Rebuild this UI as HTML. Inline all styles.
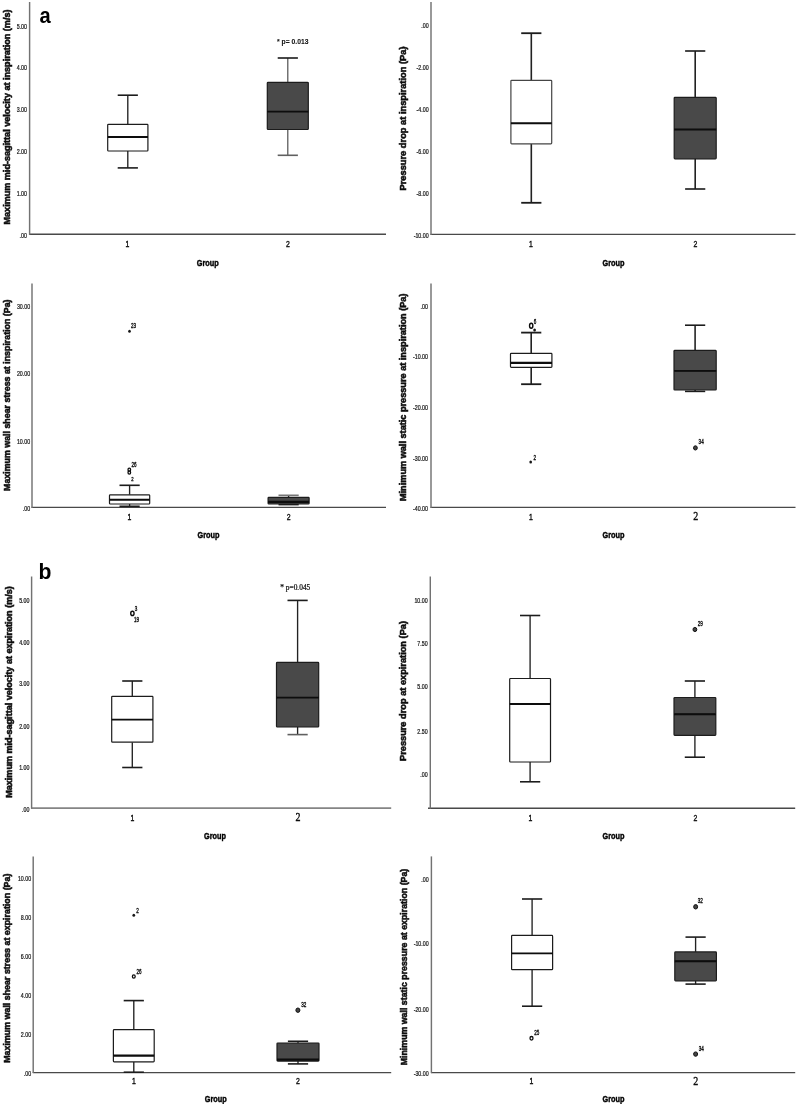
<!DOCTYPE html>
<html><head><meta charset="utf-8"><title>Figure</title>
<style>
html,body{margin:0;padding:0;background:#fff;}
body{width:797px;height:1104px;overflow:hidden;font-family:"Liberation Sans", sans-serif;}
svg{display:block;}
</style></head>
<body>
<svg width="797" height="1104" viewBox="0 0 797 1104">
<defs><filter id="bl" x="0" y="0" width="100%" height="100%"><feGaussianBlur stdDeviation="0.32"/></filter></defs>
<rect width="797" height="1104" fill="#fff"/>
<g filter="url(#bl)">
<line x1="29.2" y1="234.3" x2="386" y2="234.3" stroke="#484848" stroke-width="1.4"/>
<line x1="29.6" y1="2" x2="29.6" y2="234.8" stroke="#727272" stroke-width="1.45"/>
<text transform="translate(9.6,117) rotate(-90)" font-size="8.4" font-weight="bold" text-anchor="middle" font-family='"Liberation Sans", sans-serif' fill="#0c0c0c" stroke="#0c0c0c" stroke-width="0.5" textLength="215" lengthAdjust="spacingAndGlyphs">Maximum mid-sagittal velocity at inspiration (m/s)</text>
<text transform="translate(27,28.5) scale(0.76,1)" font-size="7.0" font-weight="normal" text-anchor="end" font-family='"Liberation Sans", sans-serif' fill="#111" stroke="#111" stroke-width="0.22">5.00</text>
<text transform="translate(27,70.1) scale(0.76,1)" font-size="7.0" font-weight="normal" text-anchor="end" font-family='"Liberation Sans", sans-serif' fill="#111" stroke="#111" stroke-width="0.22">4.00</text>
<text transform="translate(27,112.2) scale(0.76,1)" font-size="7.0" font-weight="normal" text-anchor="end" font-family='"Liberation Sans", sans-serif' fill="#111" stroke="#111" stroke-width="0.22">3.00</text>
<text transform="translate(27,154.3) scale(0.76,1)" font-size="7.0" font-weight="normal" text-anchor="end" font-family='"Liberation Sans", sans-serif' fill="#111" stroke="#111" stroke-width="0.22">2.00</text>
<text transform="translate(27,196.1) scale(0.76,1)" font-size="7.0" font-weight="normal" text-anchor="end" font-family='"Liberation Sans", sans-serif' fill="#111" stroke="#111" stroke-width="0.22">1.00</text>
<text transform="translate(27,238.3) scale(0.76,1)" font-size="7.0" font-weight="normal" text-anchor="end" font-family='"Liberation Sans", sans-serif' fill="#111" stroke="#111" stroke-width="0.22">.00</text>
<text transform="translate(39.6,23.0) scale(0.93,1)" font-size="21.6" font-weight="bold" text-anchor="start" font-family='"Liberation Sans", sans-serif' fill="#000" >a</text>
<line x1="127.8" y1="95.2" x2="127.8" y2="124.3" stroke="#222" stroke-width="1.35"/>
<line x1="127.8" y1="151.0" x2="127.8" y2="167.9" stroke="#222" stroke-width="1.35"/>
<line x1="117.7" y1="95.2" x2="137.9" y2="95.2" stroke="#1c1c1c" stroke-width="1.6"/>
<line x1="117.7" y1="167.9" x2="137.9" y2="167.9" stroke="#1c1c1c" stroke-width="1.6"/>
<rect x="107.69999999999999" y="124.3" width="40.2" height="26.700000000000003" rx="0.8" fill="#fff" stroke="#1c1c1c" stroke-width="1.2"/>
<line x1="107.69999999999999" y1="137" x2="147.9" y2="137" stroke="#0a0a0a" stroke-width="1.9"/>
<line x1="287.8" y1="58" x2="287.8" y2="82.3" stroke="#505050" stroke-width="1.2"/>
<line x1="287.8" y1="129.5" x2="287.8" y2="155.3" stroke="#505050" stroke-width="1.2"/>
<line x1="277.7" y1="58" x2="297.90000000000003" y2="58" stroke="#1c1c1c" stroke-width="1.6"/>
<line x1="277.7" y1="155.3" x2="297.90000000000003" y2="155.3" stroke="#606060" stroke-width="1.6"/>
<rect x="267.3" y="82.3" width="41.0" height="47.2" rx="0.8" fill="#4a4a4a" stroke="#1c1c1c" stroke-width="1.2"/>
<line x1="267.3" y1="111.6" x2="308.3" y2="111.6" stroke="#0a0a0a" stroke-width="1.7"/>
<text transform="translate(277,44.1) scale(0.88,1)" font-size="7.7" font-weight="bold" text-anchor="start" font-family='"Liberation Sans", sans-serif' fill="#151515" stroke="#151515" stroke-width="0.1">* p= 0.013</text>
<text transform="translate(127.4,246.5) scale(0.74,1)" font-size="9.3" font-weight="normal" text-anchor="middle" font-family='"Liberation Sans", sans-serif' fill="#111" stroke="#111" stroke-width="0.4">1</text>
<text transform="translate(288,246.5) scale(0.74,1)" font-size="9.3" font-weight="normal" text-anchor="middle" font-family='"Liberation Sans", sans-serif' fill="#111" stroke="#111" stroke-width="0.4">2</text>
<text transform="translate(207.8,266.3) scale(0.78,1)" font-size="9.4" font-weight="bold" text-anchor="middle" font-family='"Liberation Sans", sans-serif' fill="#000" stroke="#000" stroke-width="0.45">Group</text>
<line x1="430.59999999999997" y1="234.4" x2="795.5" y2="234.4" stroke="#484848" stroke-width="1.4"/>
<line x1="431.0" y1="2" x2="431.0" y2="234.9" stroke="#727272" stroke-width="1.45"/>
<text transform="translate(405.8,118.5) rotate(-90)" font-size="8.4" font-weight="bold" text-anchor="middle" font-family='"Liberation Sans", sans-serif' fill="#0c0c0c" stroke="#0c0c0c" stroke-width="0.5" textLength="144" lengthAdjust="spacingAndGlyphs">Pressure drop at inspiration (Pa)</text>
<text transform="translate(428.7,28.3) scale(0.76,1)" font-size="7.0" font-weight="normal" text-anchor="end" font-family='"Liberation Sans", sans-serif' fill="#111" stroke="#111" stroke-width="0.22">.00</text>
<text transform="translate(428.7,70.3) scale(0.76,1)" font-size="7.0" font-weight="normal" text-anchor="end" font-family='"Liberation Sans", sans-serif' fill="#111" stroke="#111" stroke-width="0.22">-2.00</text>
<text transform="translate(428.7,112.2) scale(0.76,1)" font-size="7.0" font-weight="normal" text-anchor="end" font-family='"Liberation Sans", sans-serif' fill="#111" stroke="#111" stroke-width="0.22">-4.00</text>
<text transform="translate(428.7,154.3) scale(0.76,1)" font-size="7.0" font-weight="normal" text-anchor="end" font-family='"Liberation Sans", sans-serif' fill="#111" stroke="#111" stroke-width="0.22">-6.00</text>
<text transform="translate(428.7,196.1) scale(0.76,1)" font-size="7.0" font-weight="normal" text-anchor="end" font-family='"Liberation Sans", sans-serif' fill="#111" stroke="#111" stroke-width="0.22">-8.00</text>
<text transform="translate(428.7,238.0) scale(0.76,1)" font-size="7.0" font-weight="normal" text-anchor="end" font-family='"Liberation Sans", sans-serif' fill="#111" stroke="#111" stroke-width="0.22">-10.00</text>
<line x1="531.3" y1="33.2" x2="531.3" y2="80.3" stroke="#222" stroke-width="1.6"/>
<line x1="531.3" y1="143.8" x2="531.3" y2="202.8" stroke="#222" stroke-width="1.6"/>
<line x1="521.1999999999999" y1="33.2" x2="541.4" y2="33.2" stroke="#1c1c1c" stroke-width="1.8"/>
<line x1="521.1999999999999" y1="202.8" x2="541.4" y2="202.8" stroke="#1c1c1c" stroke-width="1.8"/>
<rect x="510.9" y="80.3" width="40.8" height="63.500000000000014" rx="0.8" fill="#fff" stroke="#454545" stroke-width="1.2"/>
<line x1="510.9" y1="123.2" x2="551.6999999999999" y2="123.2" stroke="#0a0a0a" stroke-width="1.9"/>
<line x1="695.2" y1="51" x2="695.2" y2="97.4" stroke="#222" stroke-width="1.6"/>
<line x1="695.2" y1="158.8" x2="695.2" y2="189" stroke="#222" stroke-width="1.6"/>
<line x1="685.1" y1="51" x2="705.3000000000001" y2="51" stroke="#1c1c1c" stroke-width="1.6"/>
<line x1="685.1" y1="189" x2="705.3000000000001" y2="189" stroke="#1c1c1c" stroke-width="1.6"/>
<rect x="674.2" y="97.4" width="42" height="61.400000000000006" rx="0.8" fill="#4a4a4a" stroke="#1c1c1c" stroke-width="1.2"/>
<line x1="674.2" y1="129.5" x2="716.2" y2="129.5" stroke="#0a0a0a" stroke-width="1.9"/>
<text transform="translate(531,246.5) scale(0.74,1)" font-size="9.3" font-weight="normal" text-anchor="middle" font-family='"Liberation Sans", sans-serif' fill="#111" stroke="#111" stroke-width="0.4">1</text>
<text transform="translate(695.5,246.5) scale(0.74,1)" font-size="9.3" font-weight="normal" text-anchor="middle" font-family='"Liberation Sans", sans-serif' fill="#111" stroke="#111" stroke-width="0.4">2</text>
<text transform="translate(613.5,266.3) scale(0.78,1)" font-size="9.4" font-weight="bold" text-anchor="middle" font-family='"Liberation Sans", sans-serif' fill="#000" stroke="#000" stroke-width="0.45">Group</text>
<line x1="31.6" y1="507.4" x2="386" y2="507.4" stroke="#484848" stroke-width="1.4"/>
<line x1="32.0" y1="283.4" x2="32.0" y2="507.9" stroke="#727272" stroke-width="1.45"/>
<text transform="translate(9.6,395.2) rotate(-90)" font-size="8.4" font-weight="bold" text-anchor="middle" font-family='"Liberation Sans", sans-serif' fill="#0c0c0c" stroke="#0c0c0c" stroke-width="0.5" textLength="191.5" lengthAdjust="spacingAndGlyphs">Maximum wall shear stress at inspiration (Pa)</text>
<text transform="translate(30.2,309.1) scale(0.76,1)" font-size="7.0" font-weight="normal" text-anchor="end" font-family='"Liberation Sans", sans-serif' fill="#111" stroke="#111" stroke-width="0.22">30.00</text>
<text transform="translate(30.2,376.4) scale(0.76,1)" font-size="7.0" font-weight="normal" text-anchor="end" font-family='"Liberation Sans", sans-serif' fill="#111" stroke="#111" stroke-width="0.22">20.00</text>
<text transform="translate(30.2,443.5) scale(0.76,1)" font-size="7.0" font-weight="normal" text-anchor="end" font-family='"Liberation Sans", sans-serif' fill="#111" stroke="#111" stroke-width="0.22">10.00</text>
<text transform="translate(30.2,511.0) scale(0.76,1)" font-size="7.0" font-weight="normal" text-anchor="end" font-family='"Liberation Sans", sans-serif' fill="#111" stroke="#111" stroke-width="0.22">.00</text>
<line x1="129.6" y1="485.3" x2="129.6" y2="494.8" stroke="#222" stroke-width="1.35"/>
<line x1="129.6" y1="504" x2="129.6" y2="506.3" stroke="#222" stroke-width="1.35"/>
<line x1="119.5" y1="485.3" x2="139.7" y2="485.3" stroke="#1c1c1c" stroke-width="1.6"/>
<line x1="119.5" y1="506.3" x2="139.7" y2="506.3" stroke="#1c1c1c" stroke-width="1.6"/>
<rect x="109.5" y="494.8" width="40.2" height="9.199999999999989" rx="0.8" fill="#fff" stroke="#1c1c1c" stroke-width="1.2"/>
<line x1="109.5" y1="499.8" x2="149.7" y2="499.8" stroke="#0a0a0a" stroke-width="1.9"/>
<line x1="288.6" y1="495.3" x2="288.6" y2="497.3" stroke="#222" stroke-width="1.35"/>
<line x1="288.6" y1="504" x2="288.6" y2="504.6" stroke="#222" stroke-width="1.35"/>
<line x1="278.5" y1="495.3" x2="298.70000000000005" y2="495.3" stroke="#777" stroke-width="1.6"/>
<line x1="278.5" y1="504.6" x2="298.70000000000005" y2="504.6" stroke="#1c1c1c" stroke-width="1.6"/>
<rect x="268.1" y="497.3" width="41.0" height="6.699999999999989" rx="0.8" fill="#4a4a4a" stroke="#1c1c1c" stroke-width="1.2"/>
<line x1="268.1" y1="501.8" x2="309.1" y2="501.8" stroke="#0a0a0a" stroke-width="2.2"/>
<ellipse cx="129.5" cy="331.2" rx="1.35" ry="1.5" fill="#151515"/>
<text transform="translate(131.0,328.1) scale(0.7,1)" font-size="6.6" font-weight="normal" text-anchor="start" font-family='"Liberation Sans", sans-serif' fill="#111" stroke="#111" stroke-width="0.35">23</text>
<ellipse cx="129.3" cy="469.7" rx="1.3" ry="1.6" fill="#fff" stroke="#0d0d0d" stroke-width="1.3"/>
<ellipse cx="129.3" cy="472.6" rx="1.3" ry="1.6" fill="#fff" stroke="#0d0d0d" stroke-width="1.3"/>
<text transform="translate(131.5,466.5) scale(0.7,1)" font-size="6.6" font-weight="normal" text-anchor="start" font-family='"Liberation Sans", sans-serif' fill="#111" stroke="#111" stroke-width="0.35">26</text>
<text transform="translate(131.3,480.8) scale(0.7,1)" font-size="6.0" font-weight="normal" text-anchor="start" font-family='"Liberation Sans", sans-serif' fill="#111" stroke="#111" stroke-width="0.35">2</text>
<text transform="translate(129.5,519.5) scale(0.74,1)" font-size="9.3" font-weight="normal" text-anchor="middle" font-family='"Liberation Sans", sans-serif' fill="#111" stroke="#111" stroke-width="0.4">1</text>
<text transform="translate(288.6,519.5) scale(0.74,1)" font-size="9.3" font-weight="normal" text-anchor="middle" font-family='"Liberation Sans", sans-serif' fill="#111" stroke="#111" stroke-width="0.4">2</text>
<text transform="translate(208.5,538.3) scale(0.78,1)" font-size="9.4" font-weight="bold" text-anchor="middle" font-family='"Liberation Sans", sans-serif' fill="#000" stroke="#000" stroke-width="0.45">Group</text>
<line x1="430.59999999999997" y1="507.4" x2="795.5" y2="507.4" stroke="#484848" stroke-width="1.4"/>
<line x1="431.0" y1="283.4" x2="431.0" y2="507.9" stroke="#727272" stroke-width="1.45"/>
<text transform="translate(405.8,397.3) rotate(-90)" font-size="8.4" font-weight="bold" text-anchor="middle" font-family='"Liberation Sans", sans-serif' fill="#0c0c0c" stroke="#0c0c0c" stroke-width="0.5" textLength="207.5" lengthAdjust="spacingAndGlyphs">Minimum wall static pressure at inspiration (Pa)</text>
<text transform="translate(428,309.1) scale(0.76,1)" font-size="7.0" font-weight="normal" text-anchor="end" font-family='"Liberation Sans", sans-serif' fill="#111" stroke="#111" stroke-width="0.22">.00</text>
<text transform="translate(428,359.3) scale(0.76,1)" font-size="7.0" font-weight="normal" text-anchor="end" font-family='"Liberation Sans", sans-serif' fill="#111" stroke="#111" stroke-width="0.22">-10.00</text>
<text transform="translate(428,409.5) scale(0.76,1)" font-size="7.0" font-weight="normal" text-anchor="end" font-family='"Liberation Sans", sans-serif' fill="#111" stroke="#111" stroke-width="0.22">-20.00</text>
<text transform="translate(428,460.5) scale(0.76,1)" font-size="7.0" font-weight="normal" text-anchor="end" font-family='"Liberation Sans", sans-serif' fill="#111" stroke="#111" stroke-width="0.22">-30.00</text>
<text transform="translate(428,510.9) scale(0.76,1)" font-size="7.0" font-weight="normal" text-anchor="end" font-family='"Liberation Sans", sans-serif' fill="#111" stroke="#111" stroke-width="0.22">-40.00</text>
<line x1="531.2" y1="332.6" x2="531.2" y2="353.3" stroke="#222" stroke-width="1.6"/>
<line x1="531.2" y1="367.3" x2="531.2" y2="384.2" stroke="#222" stroke-width="1.6"/>
<line x1="521.1" y1="332.6" x2="541.3000000000001" y2="332.6" stroke="#1c1c1c" stroke-width="1.8"/>
<line x1="521.1" y1="384.2" x2="541.3000000000001" y2="384.2" stroke="#1c1c1c" stroke-width="1.8"/>
<rect x="510.50000000000006" y="353.3" width="41.4" height="14.0" rx="0.8" fill="#fff" stroke="#1c1c1c" stroke-width="1.2"/>
<line x1="510.50000000000006" y1="362.8" x2="551.9000000000001" y2="362.8" stroke="#0a0a0a" stroke-width="2.3"/>
<line x1="695.1" y1="325.2" x2="695.1" y2="350.4" stroke="#222" stroke-width="1.6"/>
<line x1="695.1" y1="390" x2="695.1" y2="391.4" stroke="#222" stroke-width="1.6"/>
<line x1="685.0" y1="325.2" x2="705.2" y2="325.2" stroke="#1c1c1c" stroke-width="1.6"/>
<line x1="685.0" y1="391.4" x2="705.2" y2="391.4" stroke="#1c1c1c" stroke-width="1.6"/>
<rect x="674.0" y="350.4" width="42.2" height="39.60000000000002" rx="0.8" fill="#4a4a4a" stroke="#1c1c1c" stroke-width="1.2"/>
<line x1="674.0" y1="370.9" x2="716.2" y2="370.9" stroke="#0a0a0a" stroke-width="1.9"/>
<ellipse cx="531.2" cy="325.8" rx="1.65" ry="2.5" fill="#fff" stroke="#0d0d0d" stroke-width="1.4"/>
<ellipse cx="534.6" cy="330" rx="1.35" ry="1.5" fill="#151515"/>
<text transform="translate(533.8,324.2) scale(0.7,1)" font-size="6.6" font-weight="normal" text-anchor="start" font-family='"Liberation Sans", sans-serif' fill="#111" stroke="#111" stroke-width="0.35">6</text>
<ellipse cx="530.7" cy="462" rx="1.35" ry="1.5" fill="#151515"/>
<text transform="translate(533.6,459.5) scale(0.7,1)" font-size="6.6" font-weight="normal" text-anchor="start" font-family='"Liberation Sans", sans-serif' fill="#111" stroke="#111" stroke-width="0.35">2</text>
<ellipse cx="695.4" cy="447.9" rx="1.9" ry="2.1" fill="#444" stroke="#111" stroke-width="1.0"/>
<text transform="translate(698.6,443.6) scale(0.7,1)" font-size="6.6" font-weight="normal" text-anchor="start" font-family='"Liberation Sans", sans-serif' fill="#111" stroke="#111" stroke-width="0.35">34</text>
<text transform="translate(531,519.5) scale(0.74,1)" font-size="9.3" font-weight="normal" text-anchor="middle" font-family='"Liberation Sans", sans-serif' fill="#111" stroke="#111" stroke-width="0.4">1</text>
<text transform="translate(695.7,520.4) scale(0.85,1)" font-size="11.8" font-weight="normal" text-anchor="middle" font-family='"Liberation Serif", serif' fill="#111" stroke="#111" stroke-width="0.4">2</text>
<text transform="translate(613.5,537.8) scale(0.78,1)" font-size="9.4" font-weight="bold" text-anchor="middle" font-family='"Liberation Sans", sans-serif' fill="#000" stroke="#000" stroke-width="0.45">Group</text>
<line x1="31.2" y1="808.2" x2="391.2" y2="808.2" stroke="#858585" stroke-width="1.7"/>
<line x1="31.6" y1="576.5" x2="31.6" y2="808.7" stroke="#727272" stroke-width="1.45"/>
<text transform="translate(12.0,692) rotate(-90)" font-size="8.4" font-weight="bold" text-anchor="middle" font-family='"Liberation Sans", sans-serif' fill="#0c0c0c" stroke="#0c0c0c" stroke-width="0.5" textLength="211.5" lengthAdjust="spacingAndGlyphs">Maximum mid-sagittal velocity at expiration (m/s)</text>
<text transform="translate(29.5,603.2) scale(0.76,1)" font-size="7.0" font-weight="normal" text-anchor="end" font-family='"Liberation Sans", sans-serif' fill="#111" stroke="#111" stroke-width="0.22">5.00</text>
<text transform="translate(29.5,644.6) scale(0.76,1)" font-size="7.0" font-weight="normal" text-anchor="end" font-family='"Liberation Sans", sans-serif' fill="#111" stroke="#111" stroke-width="0.22">4.00</text>
<text transform="translate(29.5,686.3) scale(0.76,1)" font-size="7.0" font-weight="normal" text-anchor="end" font-family='"Liberation Sans", sans-serif' fill="#111" stroke="#111" stroke-width="0.22">3.00</text>
<text transform="translate(29.5,728.5) scale(0.76,1)" font-size="7.0" font-weight="normal" text-anchor="end" font-family='"Liberation Sans", sans-serif' fill="#111" stroke="#111" stroke-width="0.22">2.00</text>
<text transform="translate(29.5,769.9) scale(0.76,1)" font-size="7.0" font-weight="normal" text-anchor="end" font-family='"Liberation Sans", sans-serif' fill="#111" stroke="#111" stroke-width="0.22">1.00</text>
<text transform="translate(29.5,811.9) scale(0.76,1)" font-size="7.0" font-weight="normal" text-anchor="end" font-family='"Liberation Sans", sans-serif' fill="#111" stroke="#111" stroke-width="0.22">.00</text>
<text transform="translate(38.6,578.5) scale(0.98,1)" font-size="21.6" font-weight="bold" text-anchor="start" font-family='"Liberation Sans", sans-serif' fill="#000" >b</text>
<line x1="132.3" y1="681" x2="132.3" y2="696.3" stroke="#222" stroke-width="1.35"/>
<line x1="132.3" y1="742.2" x2="132.3" y2="767.5" stroke="#222" stroke-width="1.35"/>
<line x1="122.20000000000002" y1="681" x2="142.4" y2="681" stroke="#1c1c1c" stroke-width="1.6"/>
<line x1="122.20000000000002" y1="767.5" x2="142.4" y2="767.5" stroke="#1c1c1c" stroke-width="1.6"/>
<rect x="111.70000000000002" y="696.3" width="41.2" height="45.90000000000009" rx="0.8" fill="#fff" stroke="#1c1c1c" stroke-width="1.2"/>
<line x1="111.70000000000002" y1="719.6" x2="152.9" y2="719.6" stroke="#0a0a0a" stroke-width="1.9"/>
<line x1="297.6" y1="600.4" x2="297.6" y2="662.4" stroke="#222" stroke-width="1.35"/>
<line x1="297.6" y1="727" x2="297.6" y2="734.6" stroke="#222" stroke-width="1.35"/>
<line x1="287.5" y1="600.4" x2="307.70000000000005" y2="600.4" stroke="#1c1c1c" stroke-width="1.6"/>
<line x1="287.5" y1="734.6" x2="307.70000000000005" y2="734.6" stroke="#606060" stroke-width="1.6"/>
<rect x="276.5" y="662.4" width="42.2" height="64.60000000000002" rx="0.8" fill="#4a4a4a" stroke="#1c1c1c" stroke-width="1.2"/>
<line x1="276.5" y1="697.6" x2="318.70000000000005" y2="697.6" stroke="#0a0a0a" stroke-width="1.9"/>
<ellipse cx="132.4" cy="613.4" rx="1.65" ry="2.1" fill="#fff" stroke="#0d0d0d" stroke-width="1.4"/>
<text transform="translate(134.8,611.0) scale(0.7,1)" font-size="6.6" font-weight="normal" text-anchor="start" font-family='"Liberation Sans", sans-serif' fill="#111" stroke="#111" stroke-width="0.35">3</text>
<text transform="translate(134.0,621.6) scale(0.7,1)" font-size="6.6" font-weight="normal" text-anchor="start" font-family='"Liberation Sans", sans-serif' fill="#111" stroke="#111" stroke-width="0.35">19</text>
<text transform="translate(280.3,589.6) scale(0.9,1)" font-size="8.2" font-weight="normal" text-anchor="start" font-family='"Liberation Serif", serif' fill="#111" stroke="#111" stroke-width="0.25">* p=0.045</text>
<text transform="translate(132.3,820.6) scale(0.74,1)" font-size="9.3" font-weight="normal" text-anchor="middle" font-family='"Liberation Sans", sans-serif' fill="#111" stroke="#111" stroke-width="0.4">1</text>
<text transform="translate(297.9,820.8) scale(0.85,1)" font-size="11.8" font-weight="normal" text-anchor="middle" font-family='"Liberation Serif", serif' fill="#111" stroke="#111" stroke-width="0.4">2</text>
<text transform="translate(215,839.0) scale(0.78,1)" font-size="9.4" font-weight="bold" text-anchor="middle" font-family='"Liberation Sans", sans-serif' fill="#000" stroke="#000" stroke-width="0.45">Group</text>
<line x1="428" y1="808.2" x2="795.2" y2="808.2" stroke="#484848" stroke-width="1.4"/>
<line x1="430.3" y1="576.5" x2="430.3" y2="808.7" stroke="#727272" stroke-width="1.45"/>
<text transform="translate(405.8,691) rotate(-90)" font-size="8.4" font-weight="bold" text-anchor="middle" font-family='"Liberation Sans", sans-serif' fill="#0c0c0c" stroke="#0c0c0c" stroke-width="0.5" textLength="140" lengthAdjust="spacingAndGlyphs">Pressure drop at expiration (Pa)</text>
<text transform="translate(427.7,603.0) scale(0.76,1)" font-size="7.0" font-weight="normal" text-anchor="end" font-family='"Liberation Sans", sans-serif' fill="#111" stroke="#111" stroke-width="0.22">10.00</text>
<text transform="translate(427.7,646.0) scale(0.76,1)" font-size="7.0" font-weight="normal" text-anchor="end" font-family='"Liberation Sans", sans-serif' fill="#111" stroke="#111" stroke-width="0.22">7.50</text>
<text transform="translate(427.7,689.2) scale(0.76,1)" font-size="7.0" font-weight="normal" text-anchor="end" font-family='"Liberation Sans", sans-serif' fill="#111" stroke="#111" stroke-width="0.22">5.00</text>
<text transform="translate(427.7,733.7) scale(0.76,1)" font-size="7.0" font-weight="normal" text-anchor="end" font-family='"Liberation Sans", sans-serif' fill="#111" stroke="#111" stroke-width="0.22">2.50</text>
<text transform="translate(427.7,777.1) scale(0.76,1)" font-size="7.0" font-weight="normal" text-anchor="end" font-family='"Liberation Sans", sans-serif' fill="#111" stroke="#111" stroke-width="0.22">.00</text>
<line x1="530.1" y1="615.5" x2="530.1" y2="678.5" stroke="#222" stroke-width="1.35"/>
<line x1="530.1" y1="762" x2="530.1" y2="781.8" stroke="#222" stroke-width="1.35"/>
<line x1="520.0" y1="615.5" x2="540.2" y2="615.5" stroke="#1c1c1c" stroke-width="1.6"/>
<line x1="520.0" y1="781.8" x2="540.2" y2="781.8" stroke="#1c1c1c" stroke-width="1.6"/>
<rect x="509.70000000000005" y="678.5" width="40.8" height="83.5" rx="0.8" fill="#fff" stroke="#1c1c1c" stroke-width="1.2"/>
<line x1="509.70000000000005" y1="704" x2="550.5" y2="704" stroke="#0a0a0a" stroke-width="1.9"/>
<line x1="694.9" y1="681" x2="694.9" y2="697.5" stroke="#222" stroke-width="1.35"/>
<line x1="694.9" y1="735.4" x2="694.9" y2="757.2" stroke="#222" stroke-width="1.35"/>
<line x1="684.8" y1="681" x2="705.0" y2="681" stroke="#1c1c1c" stroke-width="1.6"/>
<line x1="684.8" y1="757.2" x2="705.0" y2="757.2" stroke="#1c1c1c" stroke-width="1.6"/>
<rect x="674.0" y="697.5" width="41.8" height="37.89999999999998" rx="0.8" fill="#4a4a4a" stroke="#1c1c1c" stroke-width="1.2"/>
<line x1="674.0" y1="714.3" x2="715.8" y2="714.3" stroke="#0a0a0a" stroke-width="1.9"/>
<ellipse cx="694.9" cy="629.5" rx="1.9" ry="2.1" fill="#444" stroke="#111" stroke-width="1.0"/>
<text transform="translate(697.7,625.7) scale(0.7,1)" font-size="6.6" font-weight="normal" text-anchor="start" font-family='"Liberation Sans", sans-serif' fill="#111" stroke="#111" stroke-width="0.35">29</text>
<text transform="translate(530.5,820.6) scale(0.74,1)" font-size="9.3" font-weight="normal" text-anchor="middle" font-family='"Liberation Sans", sans-serif' fill="#111" stroke="#111" stroke-width="0.4">1</text>
<text transform="translate(695.5,820.6) scale(0.74,1)" font-size="9.3" font-weight="normal" text-anchor="middle" font-family='"Liberation Sans", sans-serif' fill="#111" stroke="#111" stroke-width="0.4">2</text>
<text transform="translate(613.5,839.1) scale(0.78,1)" font-size="9.4" font-weight="bold" text-anchor="middle" font-family='"Liberation Sans", sans-serif' fill="#000" stroke="#000" stroke-width="0.45">Group</text>
<line x1="32.8" y1="1072.6" x2="391.2" y2="1072.6" stroke="#484848" stroke-width="1.4"/>
<line x1="33.199999999999996" y1="856.4" x2="33.199999999999996" y2="1073.1" stroke="#727272" stroke-width="1.45"/>
<text transform="translate(10.1,968.2) rotate(-90)" font-size="8.4" font-weight="bold" text-anchor="middle" font-family='"Liberation Sans", sans-serif' fill="#0c0c0c" stroke="#0c0c0c" stroke-width="0.5" textLength="189.2" lengthAdjust="spacingAndGlyphs">Maximum wall shear stress at expiration (Pa)</text>
<text transform="translate(31.2,881.2) scale(0.76,1)" font-size="7.0" font-weight="normal" text-anchor="end" font-family='"Liberation Sans", sans-serif' fill="#111" stroke="#111" stroke-width="0.22">10.00</text>
<text transform="translate(31.2,919.8) scale(0.76,1)" font-size="7.0" font-weight="normal" text-anchor="end" font-family='"Liberation Sans", sans-serif' fill="#111" stroke="#111" stroke-width="0.22">8.00</text>
<text transform="translate(31.2,958.9) scale(0.76,1)" font-size="7.0" font-weight="normal" text-anchor="end" font-family='"Liberation Sans", sans-serif' fill="#111" stroke="#111" stroke-width="0.22">6.00</text>
<text transform="translate(31.2,998.4) scale(0.76,1)" font-size="7.0" font-weight="normal" text-anchor="end" font-family='"Liberation Sans", sans-serif' fill="#111" stroke="#111" stroke-width="0.22">4.00</text>
<text transform="translate(31.2,1037.0) scale(0.76,1)" font-size="7.0" font-weight="normal" text-anchor="end" font-family='"Liberation Sans", sans-serif' fill="#111" stroke="#111" stroke-width="0.22">2.00</text>
<text transform="translate(31.2,1076.2) scale(0.76,1)" font-size="7.0" font-weight="normal" text-anchor="end" font-family='"Liberation Sans", sans-serif' fill="#111" stroke="#111" stroke-width="0.22">.00</text>
<line x1="133.8" y1="1000.6" x2="133.8" y2="1029.7" stroke="#222" stroke-width="1.35"/>
<line x1="133.8" y1="1061.9" x2="133.8" y2="1072.2" stroke="#222" stroke-width="1.35"/>
<line x1="123.70000000000002" y1="1000.6" x2="143.9" y2="1000.6" stroke="#1c1c1c" stroke-width="1.6"/>
<line x1="123.70000000000002" y1="1072.2" x2="143.9" y2="1072.2" stroke="#1c1c1c" stroke-width="1.6"/>
<rect x="113.4" y="1029.7" width="40.8" height="32.200000000000045" rx="0.8" fill="#fff" stroke="#1c1c1c" stroke-width="1.2"/>
<line x1="113.4" y1="1055.6" x2="154.20000000000002" y2="1055.6" stroke="#0a0a0a" stroke-width="2.1"/>
<line x1="298" y1="1041.3" x2="298" y2="1043" stroke="#222" stroke-width="1.35"/>
<line x1="298" y1="1061.1" x2="298" y2="1063.9" stroke="#222" stroke-width="1.35"/>
<line x1="287.9" y1="1041.3" x2="308.1" y2="1041.3" stroke="#1c1c1c" stroke-width="1.6"/>
<line x1="287.9" y1="1063.9" x2="308.1" y2="1063.9" stroke="#1c1c1c" stroke-width="1.6"/>
<rect x="277" y="1043" width="42" height="18.09999999999991" rx="0.8" fill="#4a4a4a" stroke="#1c1c1c" stroke-width="1.2"/>
<line x1="277" y1="1059.6" x2="319" y2="1059.6" stroke="#0a0a0a" stroke-width="2.2"/>
<ellipse cx="133.8" cy="915.3" rx="1.35" ry="1.5" fill="#151515"/>
<text transform="translate(136.2,913) scale(0.7,1)" font-size="6.6" font-weight="normal" text-anchor="start" font-family='"Liberation Sans", sans-serif' fill="#111" stroke="#111" stroke-width="0.35">2</text>
<ellipse cx="133.8" cy="976.5" rx="1.4" ry="1.7" fill="#fff" stroke="#0d0d0d" stroke-width="1.3"/>
<text transform="translate(136.5,973.5) scale(0.7,1)" font-size="6.6" font-weight="normal" text-anchor="start" font-family='"Liberation Sans", sans-serif' fill="#111" stroke="#111" stroke-width="0.35">26</text>
<ellipse cx="297.9" cy="1010.2" rx="2.0" ry="2.2" fill="#444" stroke="#111" stroke-width="1.0"/>
<text transform="translate(301.2,1006.6) scale(0.7,1)" font-size="6.6" font-weight="normal" text-anchor="start" font-family='"Liberation Sans", sans-serif' fill="#111" stroke="#111" stroke-width="0.35">32</text>
<text transform="translate(133.8,1084.2) scale(0.74,1)" font-size="9.3" font-weight="normal" text-anchor="middle" font-family='"Liberation Sans", sans-serif' fill="#111" stroke="#111" stroke-width="0.4">1</text>
<text transform="translate(298,1084.2) scale(0.74,1)" font-size="9.3" font-weight="normal" text-anchor="middle" font-family='"Liberation Sans", sans-serif' fill="#111" stroke="#111" stroke-width="0.4">2</text>
<text transform="translate(215.8,1101.6) scale(0.78,1)" font-size="9.4" font-weight="bold" text-anchor="middle" font-family='"Liberation Sans", sans-serif' fill="#000" stroke="#000" stroke-width="0.45">Group</text>
<line x1="431.0" y1="1072.6" x2="795.2" y2="1072.6" stroke="#484848" stroke-width="1.4"/>
<line x1="431.40000000000003" y1="856.4" x2="431.40000000000003" y2="1073.1" stroke="#727272" stroke-width="1.45"/>
<text transform="translate(406.5,967) rotate(-90)" font-size="8.4" font-weight="bold" text-anchor="middle" font-family='"Liberation Sans", sans-serif' fill="#0c0c0c" stroke="#0c0c0c" stroke-width="0.5" textLength="196.6" lengthAdjust="spacingAndGlyphs">Minimum wall static pressure at expiration (Pa)</text>
<text transform="translate(428.7,881.5) scale(0.76,1)" font-size="7.0" font-weight="normal" text-anchor="end" font-family='"Liberation Sans", sans-serif' fill="#111" stroke="#111" stroke-width="0.22">.00</text>
<text transform="translate(428.7,946.1) scale(0.76,1)" font-size="7.0" font-weight="normal" text-anchor="end" font-family='"Liberation Sans", sans-serif' fill="#111" stroke="#111" stroke-width="0.22">-10.00</text>
<text transform="translate(428.7,1011.5) scale(0.76,1)" font-size="7.0" font-weight="normal" text-anchor="end" font-family='"Liberation Sans", sans-serif' fill="#111" stroke="#111" stroke-width="0.22">-20.00</text>
<text transform="translate(428.7,1076.4) scale(0.76,1)" font-size="7.0" font-weight="normal" text-anchor="end" font-family='"Liberation Sans", sans-serif' fill="#111" stroke="#111" stroke-width="0.22">-30.00</text>
<line x1="532.1" y1="899" x2="532.1" y2="935.4" stroke="#222" stroke-width="1.35"/>
<line x1="532.1" y1="969.7" x2="532.1" y2="1006.2" stroke="#222" stroke-width="1.35"/>
<line x1="522.0" y1="899" x2="542.2" y2="899" stroke="#1c1c1c" stroke-width="1.6"/>
<line x1="522.0" y1="1006.2" x2="542.2" y2="1006.2" stroke="#1c1c1c" stroke-width="1.6"/>
<rect x="511.6" y="935.4" width="41.0" height="34.30000000000007" rx="0.8" fill="#fff" stroke="#1c1c1c" stroke-width="1.2"/>
<line x1="511.6" y1="953.4" x2="552.6" y2="953.4" stroke="#0a0a0a" stroke-width="1.9"/>
<line x1="695.6" y1="937.1" x2="695.6" y2="951.9" stroke="#222" stroke-width="1.35"/>
<line x1="695.6" y1="980.8" x2="695.6" y2="984.1" stroke="#222" stroke-width="1.35"/>
<line x1="685.5" y1="937.1" x2="705.7" y2="937.1" stroke="#1c1c1c" stroke-width="1.6"/>
<line x1="685.5" y1="984.1" x2="705.7" y2="984.1" stroke="#1c1c1c" stroke-width="1.6"/>
<rect x="674.8000000000001" y="951.9" width="41.6" height="28.899999999999977" rx="0.8" fill="#4a4a4a" stroke="#1c1c1c" stroke-width="1.2"/>
<line x1="674.8000000000001" y1="961.2" x2="716.4" y2="961.2" stroke="#0a0a0a" stroke-width="1.9"/>
<ellipse cx="531.5" cy="1038.3" rx="1.5" ry="1.8" fill="#fff" stroke="#0d0d0d" stroke-width="1.3"/>
<text transform="translate(534.2,1035) scale(0.7,1)" font-size="6.6" font-weight="normal" text-anchor="start" font-family='"Liberation Sans", sans-serif' fill="#111" stroke="#111" stroke-width="0.35">25</text>
<ellipse cx="695.65" cy="906.8" rx="2.0" ry="2.2" fill="#444" stroke="#111" stroke-width="1.0"/>
<text transform="translate(697.8,902.9) scale(0.7,1)" font-size="6.6" font-weight="normal" text-anchor="start" font-family='"Liberation Sans", sans-serif' fill="#111" stroke="#111" stroke-width="0.35">32</text>
<ellipse cx="695.6" cy="1054.1" rx="2.0" ry="2.2" fill="#444" stroke="#111" stroke-width="1.0"/>
<text transform="translate(698.8,1050.6) scale(0.7,1)" font-size="6.6" font-weight="normal" text-anchor="start" font-family='"Liberation Sans", sans-serif' fill="#111" stroke="#111" stroke-width="0.35">34</text>
<text transform="translate(531.5,1084.2) scale(0.74,1)" font-size="9.3" font-weight="normal" text-anchor="middle" font-family='"Liberation Sans", sans-serif' fill="#111" stroke="#111" stroke-width="0.4">1</text>
<text transform="translate(695.8,1085.0) scale(0.85,1)" font-size="11.8" font-weight="normal" text-anchor="middle" font-family='"Liberation Serif", serif' fill="#111" stroke="#111" stroke-width="0.4">2</text>
<text transform="translate(613.5,1101.6) scale(0.78,1)" font-size="9.4" font-weight="bold" text-anchor="middle" font-family='"Liberation Sans", sans-serif' fill="#000" stroke="#000" stroke-width="0.45">Group</text>
</g>
</svg>
</body></html>
